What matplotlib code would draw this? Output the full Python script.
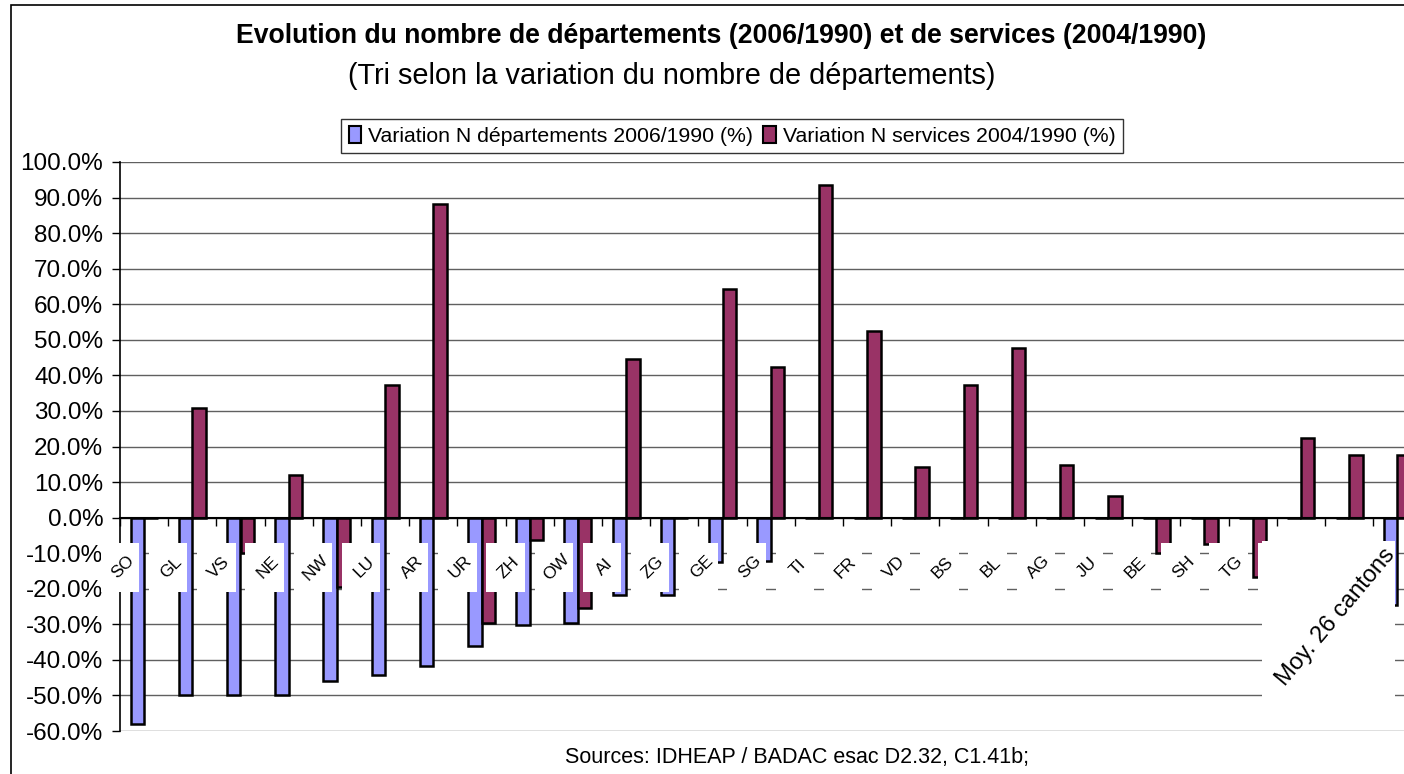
import matplotlib
matplotlib.use("Agg")
import matplotlib.pyplot as plt
from matplotlib.patches import Rectangle, Patch
import numpy as np

plt.rcParams['font.family'] = ['Liberation Sans', 'DejaVu Sans']

categories = ['SO', 'GL', 'VS', 'NE', 'NW', 'LU', 'AR', 'UR', 'ZH', 'OW', 'AI', 'ZG', 'GE',
              'SG', 'TI', 'FR', 'VD', 'BS', 'BL', 'AG', 'JU', 'BE', 'SH', 'TG', 'SZ', 'GR',
              'Moy. 26 cantons']
var_departements = [-58.0, -50.0, -50.0, -50.0, -46.0, -44.2, -41.7, -36.2, -30.2, -29.5,
                    -21.8, -21.8, -12.5, -12.3, 0, 0, 0, 0, 0, 0, 0, 0, 0, 0, 0, 0, -24.5]
var_services = [0, 30.8, -10.0, 12.0, -19.5, 37.2, 88.3, -29.6, -6.2, -25.3, 44.5, 0, 64.2,
                42.3, 93.5, 52.5, 14.2, 37.2, 47.6, 14.9, 6.2, -10.0, -7.4, -16.6, 22.5,
                17.6, 17.6]
y_ticks = list(range(-60, 101, 10))

title = "Evolution du nombre de départements (2006/1990) et de services (2004/1990)"
subtitle = "(Tri selon la variation du nombre de départements)"
legend_labels = ["Variation N départements 2006/1990 (%)", "Variation N services 2004/1990 (%)"]
source = "Sources: IDHEAP / BADAC esac D2.32, C1.41b;"

BLUE = '#9999FF'
PURPLE = '#993366'

W, H = 1404, 774
fig = plt.figure(figsize=(W / 100, H / 100), dpi=100)

n = len(categories)
cat_px = 48.2
left_px, top_px, bot_px = 120, 162, 731
ax = fig.add_axes([left_px / W, 1 - bot_px / H, n * cat_px / W, (bot_px - top_px) / H])

x = np.arange(n)
bw = 0.28
ax.bar(x - bw / 2, var_departements, bw, color=BLUE, edgecolor='black', linewidth=1.8, zorder=3)
ax.bar(x + bw / 2, var_services, bw, color=PURPLE, edgecolor='black', linewidth=1.8, zorder=3)

ax.set_xlim(-0.5, n - 0.5)
ax.set_ylim(-60, 100)
ax.set_yticks(y_ticks)
ax.set_yticklabels([f"{v:.1f}%" for v in y_ticks], fontsize=17.5)
ax.yaxis.grid(True, color='#606060', linewidth=1.0, zorder=0)
ax.set_axisbelow(True)

ax.spines['top'].set_visible(False)
ax.spines['right'].set_visible(False)
ax.spines['bottom'].set_position(('data', 0))
ax.spines['bottom'].set_linewidth(1.5)
ax.spines['bottom'].set_zorder(4)
ax.spines['left'].set_linewidth(1.2)
ax.set_xticks(np.arange(-0.5, n, 1.0))
ax.set_xticklabels([])
ax.tick_params(axis='x', direction='out', length=6, width=1.0)
ax.tick_params(axis='y', direction='out', length=6, width=1.0, pad=6)

# category labels with opaque white boxes
for i, lab in enumerate(categories):
    if lab.startswith('Moy'):
        ax.add_patch(Rectangle((i - 2.81, -57), 2.76, 50.5, facecolor='white',
                               edgecolor='none', zorder=7, clip_on=False))
        ax.text(i - 0.12, -9.5, lab, rotation=50, rotation_mode='anchor', ha='right',
                va='center', fontsize=17, zorder=8, clip_on=False)
    else:
        ax.add_patch(Rectangle((i - 0.5 - 0.4, -21), 0.8, 14, facecolor='white',
                               edgecolor='none', zorder=5, clip_on=False))
        ax.text(i - 0.44, -14, lab, rotation=45, rotation_mode='anchor', ha='center',
                va='center', fontsize=12.5, zorder=6, clip_on=False)

# titles
fig.text(721 / W, 1 - 36 / H, title, ha='center', va='center', fontsize=19.2, fontweight='bold')
fig.text(672 / W, 1 - 76 / H, subtitle, ha='center', va='center', fontsize=20.8)
fig.text(797 / W, 1 - 757 / H, source, ha='center', va='center', fontsize=15.5)

handles = [Patch(facecolor=BLUE, edgecolor='black', linewidth=1.5),
           Patch(facecolor=PURPLE, edgecolor='black', linewidth=1.5)]
leg = fig.legend(handles, legend_labels, loc='center', bbox_to_anchor=(732 / W, 1 - 136 / H),
                 ncol=2, fontsize=15.3, frameon=True, fancybox=False, edgecolor='black',
                 handlelength=0.6, handleheight=0.8, handletextpad=0.3, columnspacing=0.5,
                 borderpad=0.35, borderaxespad=0)
leg.get_frame().set_linewidth(1.0)

# outer chart border
fig.add_artist(Rectangle((11 / W, -0.05), 1.2, 1 - 5 / H + 0.05, transform=fig.transFigure,
                         fill=False, edgecolor='black', linewidth=1.2, clip_on=False))

fig.savefig('out.png', dpi=100)
